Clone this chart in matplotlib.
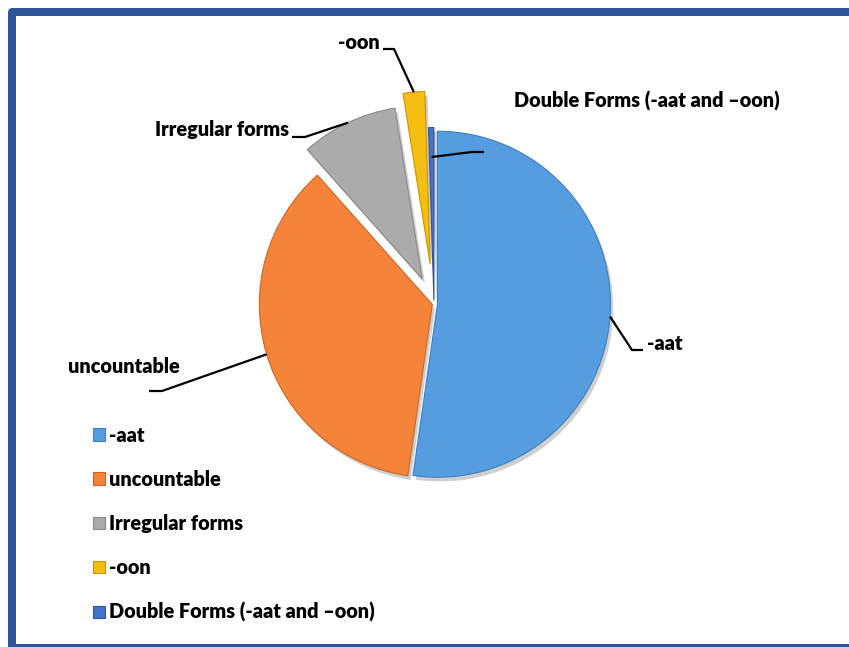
import numpy as np
import matplotlib
matplotlib.use("Agg")
import matplotlib.pyplot as plt
from matplotlib.patches import Rectangle
import matplotlib.patheffects as pe

# ---- data ----
categories = ["-aat", "uncountable", "Irregular forms", "-oon", "Double Forms (-aat and \u2013oon)"]
values = [52, 36, 9, 2, 0.5]
colors = ["#559DE0", "#F5843A", "#ABABAB", "#F5BE12", "#4472C4"]
edges = ["#3F7FBF", "#C8662A", "#8A8A8A", "#C99500", "#2F5597"]
explode_frac = [0.02, 0.01, 0.16, 0.23, 0.02]

W, H = 849, 647
def Y(px):
    return H - px

FONT = "Lato"
FS = 14.3
FW = "heavy"

fig = plt.figure(figsize=(W / 100, H / 100), dpi=100)
ax = fig.add_axes([0, 0, 1, 1])

R = 173
center = (434, Y(304))
wedges, _ = ax.pie(values, colors=colors, startangle=90, counterclock=False,
                   explode=[e * R for e in explode_frac], radius=R, center=center,
                   wedgeprops=dict(linewidth=0.8))
for w, ec in zip(wedges, edges):
    w.set_edgecolor(ec)
    w.set_path_effects([pe.SimplePatchShadow(offset=(2, -3), shadow_rgbFace="#777777", alpha=0.35),
                        pe.Normal()])

ax.set_xlim(0, W)
ax.set_ylim(0, H)
ax.set_axis_off()

def anchor(w, rfrac=1.0):
    th = np.deg2rad(0.5 * (w.theta1 + w.theta2))
    cx, cy = w.center
    return cx + w.r * rfrac * np.cos(th), cy + w.r * rfrac * np.sin(th)

# label layout: text x, baseline y (px), alignment, elbow points (px), anchor radius fraction
layout = [
    dict(tx=647, ty=350, ha="left", path=[(643, 350), (632, 350)], rf=1.0),
    dict(tx=68, ty=373, ha="left", path=[(149, 391), (162, 391)], rf=1.0),
    dict(tx=289, ty=136, ha="right", path=[(292, 137), (305, 137)], rf=1.0),
    dict(tx=338, ty=49, ha="left", path=[(383, 49), (394, 49)], rf=1.0),
    dict(tx=514, ty=108, ha="left", path=[(484, 152), (472, 152)], rf=0.83),
]

font = [FONT, "DejaVu Sans"]
for w, lab, L in zip(wedges, categories, layout):
    ax_, ay_ = anchor(w, L["rf"])
    xs = [p[0] for p in L["path"]] + [ax_]
    ys = [Y(p[1]) for p in L["path"]] + [ay_]
    ax.plot(xs, ys, color="black", lw=1.6, solid_capstyle="butt")
    ax.text(L["tx"], Y(L["ty"]), lab, ha=L["ha"], va="baseline",
            fontsize=FS, fontweight=FW, family=font)

leg = ax.legend(wedges, categories, loc="upper left",
                bbox_to_anchor=(93 / W, 1 - 425.5 / H), bbox_transform=fig.transFigure,
                frameon=False, borderpad=0, borderaxespad=0,
                handlelength=0.6, handleheight=0.6, handletextpad=0.2,
                labelspacing=1.27, prop=dict(family=font, weight=FW, size=FS))
for h in leg.legend_handles:
    h.set_path_effects([])

# outer frame
ax.add_patch(Rectangle((12, Y(648)), 900, 636, fill=False, edgecolor="#2E5597",
                       lw=8 * 72 / 100, joinstyle="round", clip_on=False))

fig.savefig("out.png", dpi=100)
